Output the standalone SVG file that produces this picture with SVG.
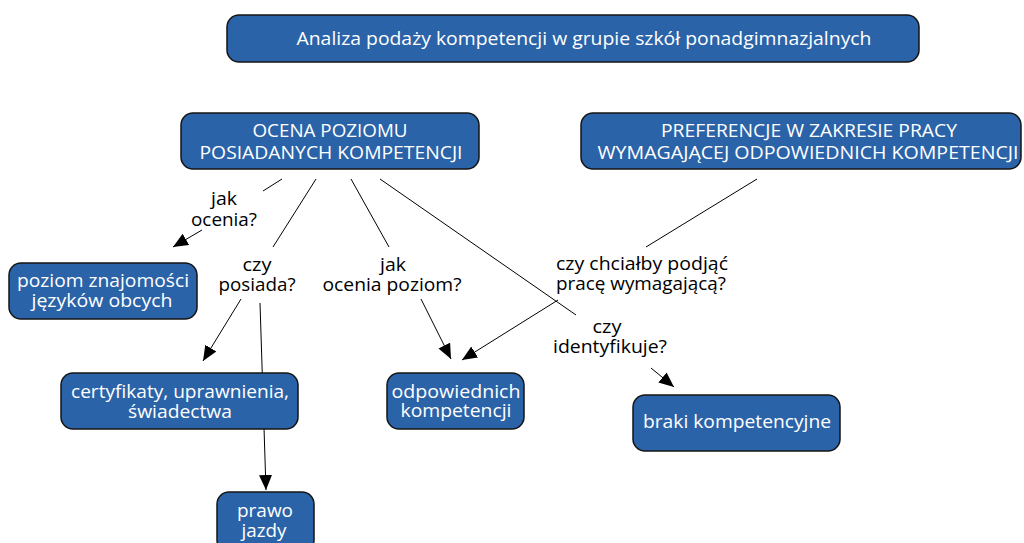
<svg xmlns="http://www.w3.org/2000/svg" width="1024" height="543" viewBox="0 0 1024 543">
<style>
.box{fill:#2B63A8;stroke:#151515;stroke-width:1.5}
.nt{font-family:"Open Sans","Liberation Sans",sans-serif;font-size:18px;fill:#ffffff;text-anchor:middle}
.lt{font-family:"Open Sans","Liberation Sans",sans-serif;font-size:18px;fill:#000000;text-anchor:middle}
.ln{stroke:#000;stroke-width:1;fill:none}
</style>
<defs>
<marker id="ah" markerUnits="userSpaceOnUse" markerWidth="16" markerHeight="14" refX="15" refY="6.5" orient="auto">
<path d="M0,0 L15,6.5 L0,13 z" fill="#000"/>
</marker>
</defs>
<rect width="1024" height="543" fill="#ffffff"/>
<g id="connectors">
<line class="ln" x1="282" y1="179" x2="263" y2="191"/>
<line class="ln" x1="202" y1="230" x2="173" y2="247" marker-end="url(#ah)"/>
<line class="ln" x1="316" y1="179" x2="273" y2="247"/>
<line class="ln" x1="241" y1="299" x2="203" y2="361" marker-end="url(#ah)"/>
<line class="ln" x1="260" y1="303" x2="266" y2="490" marker-end="url(#ah)"/>
<line class="ln" x1="351" y1="179" x2="389" y2="247"/>
<line class="ln" x1="421" y1="299" x2="451" y2="359" marker-end="url(#ah)"/>
<line class="ln" x1="757" y1="179" x2="646" y2="247"/>
<line class="ln" x1="558" y1="300" x2="462" y2="360" marker-end="url(#ah)"/>
<line class="ln" x1="380" y1="179" x2="576" y2="315"/>
<line class="ln" x1="651" y1="368" x2="674" y2="387" marker-end="url(#ah)"/>
</g>
<g id="labels">
<text class="lt" x="224" y="205" textLength="26" lengthAdjust="spacingAndGlyphs">jak</text>
<text class="lt" x="224" y="226" textLength="66" lengthAdjust="spacingAndGlyphs">ocenia?</text>
<text class="lt" x="257" y="271" textLength="29" lengthAdjust="spacingAndGlyphs">czy</text>
<text class="lt" x="257" y="291" textLength="77" lengthAdjust="spacingAndGlyphs">posiada?</text>
<text class="lt" x="393" y="271" textLength="26" lengthAdjust="spacingAndGlyphs">jak</text>
<text class="lt" x="392" y="291" textLength="139" lengthAdjust="spacingAndGlyphs">ocenia poziom?</text>
<text class="lt" x="642" y="270" textLength="172" lengthAdjust="spacingAndGlyphs">czy chciałby podjąć</text>
<text class="lt" x="641" y="290" textLength="170" lengthAdjust="spacingAndGlyphs">pracę wymagającą?</text>
<text class="lt" x="607" y="333" textLength="29" lengthAdjust="spacingAndGlyphs">czy</text>
<text class="lt" x="610" y="353" textLength="114" lengthAdjust="spacingAndGlyphs">identyfikuje?</text>
</g>
<g id="n-title">
<rect class="box" x="227" y="15" width="692" height="47" rx="12"/>
<text class="nt" x="584" y="45" textLength="575" lengthAdjust="spacingAndGlyphs">Analiza podaży kompetencji w grupie szkół ponadgimnazjalnych</text>
</g>
<g id="n-ocena">
<rect class="box" x="181" y="113" width="298" height="56" rx="12"/>
<text class="nt" x="330" y="137" textLength="155" lengthAdjust="spacingAndGlyphs">OCENA POZIOMU</text>
<text class="nt" x="331" y="159" textLength="263" lengthAdjust="spacingAndGlyphs">POSIADANYCH KOMPETENCJI</text>
</g>
<g id="n-preferencje">
<rect class="box" x="581" y="113" width="440" height="56" rx="12"/>
<text class="nt" x="809" y="137" textLength="296" lengthAdjust="spacingAndGlyphs">PREFERENCJE W ZAKRESIE PRACY</text>
<text class="nt" x="808" y="159" textLength="421" lengthAdjust="spacingAndGlyphs">WYMAGAJĄCEJ ODPOWIEDNICH KOMPETENCJI</text>
</g>
<g id="n-jezyki">
<rect class="box" x="9" y="263" width="188" height="56" rx="12"/>
<text class="nt" x="103" y="287" textLength="172" lengthAdjust="spacingAndGlyphs">poziom znajomości</text>
<text class="nt" x="102" y="307" textLength="141" lengthAdjust="spacingAndGlyphs">języków obcych</text>
</g>
<g id="n-certyfikaty">
<rect class="box" x="61" y="373" width="237" height="56" rx="12"/>
<text class="nt" x="180" y="398" textLength="218" lengthAdjust="spacingAndGlyphs">certyfikaty, uprawnienia,</text>
<text class="nt" x="180" y="418" textLength="104" lengthAdjust="spacingAndGlyphs">świadectwa</text>
</g>
<g id="n-prawo">
<rect class="box" x="217" y="492" width="97" height="60" rx="12"/>
<text class="nt" x="265" y="517" textLength="56" lengthAdjust="spacingAndGlyphs">prawo</text>
<text class="nt" x="264" y="537" textLength="45" lengthAdjust="spacingAndGlyphs">jazdy</text>
</g>
<g id="n-odpowiednich">
<rect class="box" x="387" y="373" width="137" height="56" rx="12"/>
<text class="nt" x="456" y="398" textLength="129" lengthAdjust="spacingAndGlyphs">odpowiednich</text>
<text class="nt" x="456" y="417" textLength="111" lengthAdjust="spacingAndGlyphs">kompetencji</text>
</g>
<g id="n-braki">
<rect class="box" x="633" y="395" width="207" height="56" rx="12"/>
<text class="nt" x="737" y="428" textLength="188" lengthAdjust="spacingAndGlyphs">braki kompetencyjne</text>
</g>
</svg>
